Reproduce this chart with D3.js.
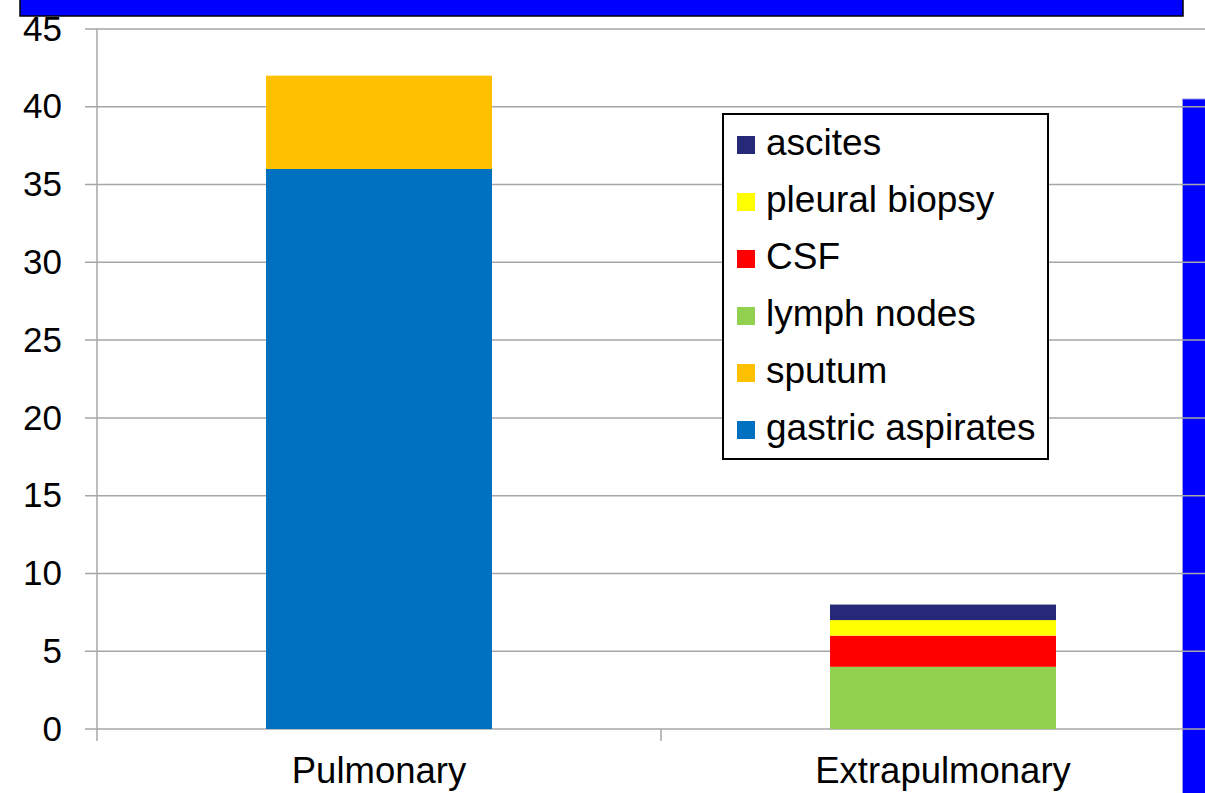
<!DOCTYPE html>
<html lang="en">
<head>
<meta charset="UTF-8">
<title>Pulmonary vs Extrapulmonary specimens</title>
<script src="https://d3js.org/d3.v7.min.js"></script>
<style>
  html, body { margin: 0; padding: 0; background: #fff; overflow: hidden; }
  svg { display: block; font-family: "Liberation Sans", Arial, sans-serif; }
</style>
</head>
<body>
<div id="chart"></div>
<script>
// data
const categories = ['Pulmonary', 'Extrapulmonary'];
const seriesNames = ['gastric aspirates', 'sputum', 'lymph nodes', 'CSF', 'pleural biopsy', 'ascites'];
const gastricAspirates = [36, 0];
const sputum = [6, 0];
const lymphNodes = [0, 4];
const csf = [0, 2];
const pleuralBiopsy = [0, 1];
const ascites = [0, 1];
const yTicks = [0, 5, 10, 15, 20, 25, 30, 35, 40, 45];
const colors = ['#0070C0', '#FFC000', '#92D050', '#FF0000', '#FFFF00', '#262878'];

const W = 1205, H = 793;
const plotLeft = 97, plotTop = 29, plotBottom = 729;

const rows = categories.map((c, i) => ({
  cat: c,
  'gastric aspirates': gastricAspirates[i],
  'sputum': sputum[i],
  'lymph nodes': lymphNodes[i],
  'CSF': csf[i],
  'pleural biopsy': pleuralBiopsy[i],
  'ascites': ascites[i]
}));
const stacked = d3.stack().keys(seriesNames)(rows);

const svg = d3.select('#chart').append('svg')
  .attr('width', W).attr('height', H);

// slide decoration: blue bar on the right, behind the gridlines
svg.append('rect').attr('x', 1182.5).attr('y', 99).attr('width', 24).attr('height', 700)
  .attr('fill', '#0000FF').attr('stroke', '#9a9ae0').attr('stroke-width', 1);

// plot area runs past the right edge of the picture
const x = d3.scaleBand().domain(categories).range([plotLeft, plotLeft + 2 * 564]).paddingInner(0).paddingOuter(0);
const y = d3.scaleLinear().domain([0, 45]).range([plotBottom, plotTop]);

// gridlines
svg.append('g')
  .selectAll('line').data(yTicks).enter().append('line')
  .attr('x1', plotLeft - 12).attr('x2', W)
  .attr('y1', d => y(d)).attr('y2', d => y(d))
  .attr('stroke', '#a6a6a6').attr('stroke-width', 1.5);

// y axis
const yAxis = svg.append('g')
  .attr('transform', `translate(${plotLeft},0)`)
  .call(d3.axisLeft(y).tickValues(yTicks).tickSize(0).tickPadding(35));
yAxis.select('.domain').remove();
yAxis.selectAll('text').attr('font-size', 35).attr('fill', '#000')
  .attr('font-family', '"Liberation Sans", Arial, sans-serif');
svg.append('line')
  .attr('x1', plotLeft).attr('x2', plotLeft).attr('y1', plotTop).attr('y2', plotBottom + 12)
  .attr('stroke', '#a6a6a6').attr('stroke-width', 1.5);

// category ticks
svg.append('g').selectAll('line').data(categories.slice(1)).enter().append('line')
  .attr('x1', d => x(d)).attr('x2', d => x(d))
  .attr('y1', plotBottom).attr('y2', plotBottom + 12)
  .attr('stroke', '#a6a6a6').attr('stroke-width', 1.5);

// bars
const barW = 226;
svg.append('g').selectAll('g').data(stacked).enter().append('g')
  .attr('fill', (d, i) => colors[i])
  .selectAll('rect').data(d => d.filter(s => s[1] > s[0])).enter().append('rect')
  .attr('x', d => x(d.data.cat) + (x.bandwidth() - barW) / 2)
  .attr('width', barW)
  .attr('y', d => y(d[1]))
  .attr('height', d => y(d[0]) - y(d[1]));

// category labels
svg.append('g').selectAll('text').data(categories).enter().append('text')
  .attr('x', d => x(d) + x.bandwidth() / 2)
  .attr('y', 783)
  .attr('text-anchor', 'middle')
  .attr('font-size', 36.5)
  .text(d => d);

// legend
const lg = svg.append('g').attr('transform', 'translate(723,114)');
lg.append('rect').attr('width', 325).attr('height', 345)
  .attr('fill', '#fff').attr('stroke', '#000').attr('stroke-width', 2);
const legendItems = seriesNames.slice().reverse();
const legendColors = colors.slice().reverse();
legendItems.forEach((name, i) => {
  const cy = 31 + i * 57;
  lg.append('rect').attr('x', 14).attr('y', cy - 9).attr('width', 18).attr('height', 18)
    .attr('fill', legendColors[i]);
  lg.append('text').attr('x', 43).attr('y', cy + 10)
    .attr('font-size', 37).text(name);
});

// slide decoration: banner on top
svg.append('rect').attr('x', 20).attr('y', -2).attr('width', 1163).attr('height', 18)
  .attr('fill', '#0000FF').attr('stroke', '#000').attr('stroke-width', 1.5);
</script>
</body>
</html>
